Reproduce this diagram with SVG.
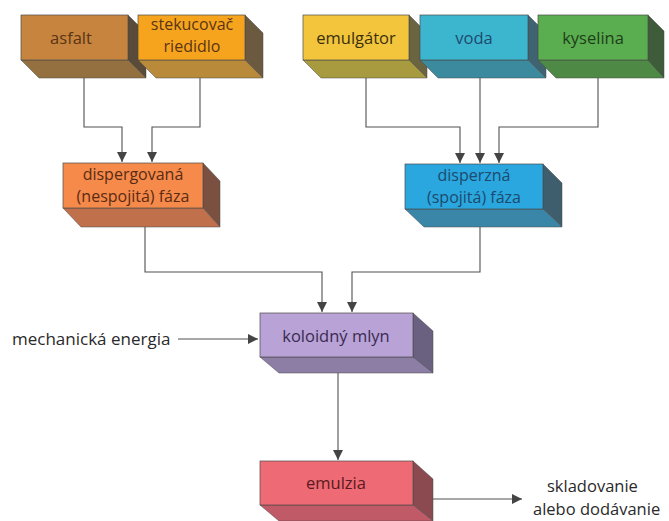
<svg xmlns="http://www.w3.org/2000/svg" width="669" height="521" viewBox="0 0 669 521">
<style>
.f{stroke:#4a4a4a;stroke-width:0.7}
.s{stroke:#4a4a4a;stroke-width:0.5}
.t{font-family:"Open Sans","Noto Sans",sans-serif;font-size:16.5px;text-anchor:middle}
.t2{font-size:16px}
.c{fill:none;stroke:#505050;stroke-width:1.1}
.l{font-family:"Open Sans","Noto Sans",sans-serif;font-size:17px;fill:#2a2a2a}
.l2{font-size:16.5px}
</style>
<defs>
<marker id="ah" viewBox="0 0 10 10" refX="10" refY="5" markerWidth="10" markerHeight="10" markerUnits="userSpaceOnUse" orient="auto">
<path d="M0,0 L10,5 L0,10 z" fill="#444"/>
</marker>
</defs>
<rect width="669" height="521" fill="#fff"/>
<g id="connectors">
<path class="c" d="M84,78 V127 H122 V162" marker-end="url(#ah)"/>
<path class="c" d="M200,78 V127 H152 V162" marker-end="url(#ah)"/>
<path class="c" d="M366,78 V127 H460 V163" marker-end="url(#ah)"/>
<path class="c" d="M480,78 V163" marker-end="url(#ah)"/>
<path class="c" d="M598,78 V127 H499 V163" marker-end="url(#ah)"/>
<path class="c" d="M145,222 V272 H322 V312" marker-end="url(#ah)"/>
<path class="c" d="M480,222 V272 H352 V312" marker-end="url(#ah)"/>
<path class="c" d="M178,339 H258" marker-end="url(#ah)"/>
<path class="c" d="M338,368 V460" marker-end="url(#ah)"/>
<path class="c" d="M424,499 H522" marker-end="url(#ah)"/>
</g>
<g id="asfalt">
<polygon class="s" points="128,15 146,33 146,78 128,60" fill="#5a4a38"/>
<polygon class="s" points="21,60 128,60 146,78 39,78" fill="#947040"/>
<rect class="f" x="21" y="15" width="107" height="45" fill="#c6843f"/>
<text class="t" x="71" y="44" fill="#5a3414">asfalt</text>
</g>
<g id="stekucovac">
<polygon class="s" points="245,15 263,33 263,78 245,60" fill="#6b5a40"/>
<polygon class="s" points="138,60 245,60 263,78 156,78" fill="#b88a3a"/>
<rect class="f" x="138" y="15" width="107" height="45" fill="#f6a41e"/>
<text class="t t2" x="192" y="30" fill="#5a3414">stekucovač</text>
<text class="t t2" x="192" y="52" fill="#5a3414">riedidlo</text>
</g>
<g id="emulgator">
<polygon class="s" points="409,15 427,33 427,78 409,60" fill="#6b6440"/>
<polygon class="s" points="303,60 409,60 427,78 321,78" fill="#a89a3e"/>
<rect class="f" x="303" y="15" width="106" height="45" fill="#f2c53c"/>
<text class="t" x="356" y="44" fill="#3a3010">emulgátor</text>
</g>
<g id="voda">
<polygon class="s" points="528,15 546,33 546,78 528,60" fill="#3f6370"/>
<polygon class="s" points="420,60 528,60 546,78 438,78" fill="#3b8a9e"/>
<rect class="f" x="420" y="15" width="108" height="45" fill="#3cb6cf"/>
<text class="t" x="474" y="44" fill="#1d4a6e">voda</text>
</g>
<g id="kyselina">
<polygon class="s" points="648,15 664,31 664,78 648,62" fill="#3e5c3a"/>
<polygon class="s" points="538,60 648,60 664,78 556,78" fill="#4e8a45"/>
<rect class="f" x="538" y="15" width="110" height="45" fill="#5aae4f"/>
<text class="t" x="593" y="44" fill="#1e3e1a">kyselina</text>
</g>
<g id="dispergovana">
<polygon class="s" points="203,163 220,181 220,227 203,208" fill="#7a5040"/>
<polygon class="s" points="63,208 203,208 220,227 81,227" fill="#c0704a"/>
<rect class="f" x="63" y="163" width="140" height="45" fill="#f58a4a"/>
<text class="t t2" x="133" y="180" fill="#5a2a14">dispergovaná</text>
<text class="t t2" x="133" y="202" fill="#5a2a14">(nespojitá) fáza</text>
</g>
<g id="disperzna">
<polygon class="s" points="543,164 562,183 562,227 543,209" fill="#3e5e6e"/>
<polygon class="s" points="405,209 543,209 562,227 424,227" fill="#3a86a8"/>
<rect class="f" x="405" y="164" width="138" height="45" fill="#2aa7de"/>
<text class="t t2" x="474" y="181" fill="#1d4a6e">disperzná</text>
<text class="t t2" x="474" y="203" fill="#1d4a6e">(spojitá) fáza</text>
</g>
<g id="koloidny">
<polygon class="s" points="413,313 433,331 433,373 413,357" fill="#6a6080"/>
<polygon class="s" points="260,357 413,357 433,373 279,373" fill="#8d7ea6"/>
<rect class="f" x="260" y="313" width="153" height="44" fill="#b8a2d6"/>
<text class="t" x="336" y="342" fill="#3a2a50">koloidný mlyn</text>
</g>
<g id="emulzia">
<polygon class="s" points="413,461 433,479 433,521 413,505" fill="#8a4a50"/>
<polygon class="s" points="260,505 413,505 433,521 279,521" fill="#c05a66"/>
<rect class="f" x="260" y="461" width="153" height="44" fill="#ee6a74"/>
<text class="t" x="336" y="489" fill="#5a1a20">emulzia</text>
</g>
<g id="labels">
<text class="l" x="12" y="345">mechanická energia</text>
<text class="l l2" x="547" y="491.5">skladovanie</text>
<text class="l l2" x="533" y="514.5">alebo dodávanie</text>
</g>
</svg>
